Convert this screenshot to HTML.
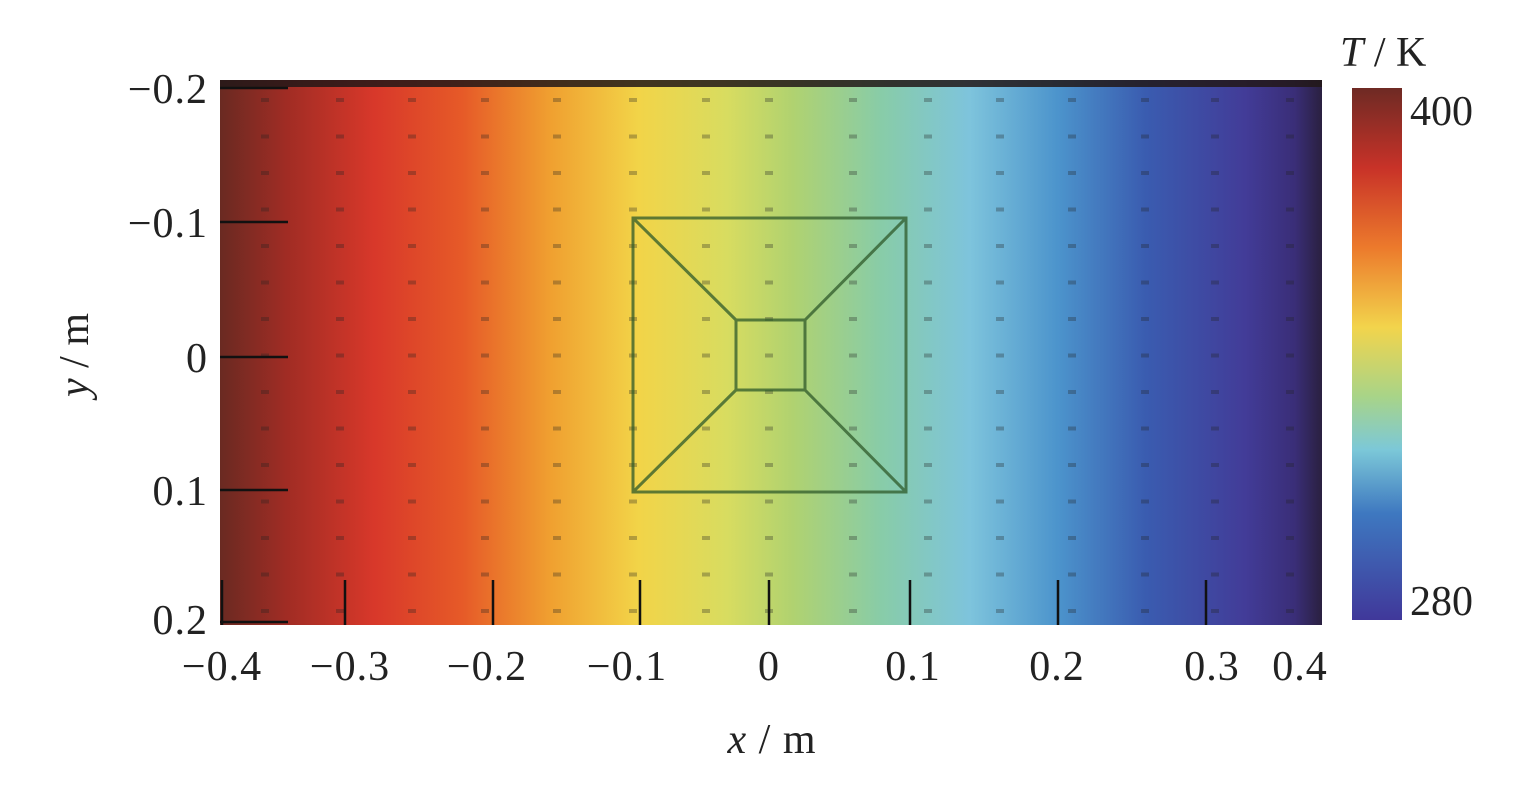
<!DOCTYPE html><html><head><style>body{margin:0;background:#fff}svg{display:block}text{font-family:"Liberation Serif",serif;fill:#222}</style></head><body>
<svg width="1515" height="790" viewBox="0 0 1515 790">
<defs>
<linearGradient id="h" x1="220" x2="1322" y1="0" y2="0" gradientUnits="userSpaceOnUse">
<stop offset="0" stop-color="#6a2a22"/><stop offset="0.06" stop-color="#a02c24"/><stop offset="0.14" stop-color="#d8382a"/><stop offset="0.22" stop-color="#e65a28"/><stop offset="0.3" stop-color="#f0a030"/><stop offset="0.38" stop-color="#f2d448"/><stop offset="0.46" stop-color="#d8dc60"/><stop offset="0.52" stop-color="#b0d270"/><stop offset="0.6" stop-color="#88cca8"/><stop offset="0.68" stop-color="#7ec4dc"/><stop offset="0.76" stop-color="#4c94cc"/><stop offset="0.84" stop-color="#3a5cb0"/><stop offset="0.93" stop-color="#423c98"/><stop offset="0.975" stop-color="#3a2e78"/><stop offset="1" stop-color="#2a2040"/>
</linearGradient>
<linearGradient id="v" x1="0" x2="0" y1="0" y2="1">
<stop offset="0" stop-color="#6e2a24"/><stop offset="0.15" stop-color="#c83228"/><stop offset="0.3" stop-color="#ec7a2c"/><stop offset="0.45" stop-color="#f2d44c"/><stop offset="0.58" stop-color="#a8d488"/><stop offset="0.68" stop-color="#7cc8d8"/><stop offset="0.8" stop-color="#3e78c0"/><stop offset="1" stop-color="#40389a"/>
</linearGradient>
</defs>
<rect x="220" y="80" width="1102" height="545" fill="url(#h)"/>
<rect x="220" y="80" width="1102" height="7" fill="#221818" opacity="0.85"/>
<g fill="#222" opacity="0.3" id="dots"></g>
<g stroke="#2f5a2a" stroke-width="3" fill="none" opacity="0.75">
<rect x="633" y="218" width="273" height="274"/>
<rect x="736" y="320" width="69" height="70"/>
<path d="M633 218L736 320M906 218L805 320M633 492L736 390M906 492L805 390"/>
</g>
<g stroke="#111" stroke-width="2.5">
<path d="M220 88h68M220 222h68M220 357h68M220 490h68M220 622h68"/>
<path d="M222 625v-45M345 625v-45M493 625v-45M640 625v-45M769 625v-45M910 625v-45M1058 625v-45M1206 625v-45"/>
</g>
<g font-size="42" text-anchor="end" letter-spacing="1">
<text x="208" y="103">−0.2</text><text x="208" y="237">−0.1</text><text x="208" y="372">0</text><text x="208" y="505">0.1</text><text x="208" y="634">0.2</text>
</g>
<g font-size="42" text-anchor="middle" letter-spacing="1">
<text x="222" y="680">−0.4</text><text x="350" y="680">−0.3</text><text x="487" y="680">−0.2</text><text x="627" y="680">−0.1</text><text x="769" y="680">0</text><text x="913" y="680">0.1</text><text x="1057" y="680">0.2</text><text x="1212" y="680">0.3</text><text x="1300" y="680">0.4</text>
<text x="772" y="753"><tspan font-style="italic">x</tspan> / m</text>
</g>
<text transform="translate(88,355) rotate(-90)" font-size="42" text-anchor="middle"><tspan font-style="italic">y</tspan> / m</text>
<rect x="1352" y="88" width="50" height="532" fill="url(#v)"/>
<text x="1340" y="66" font-size="42"><tspan font-style="italic">T</tspan> / K</text>
<text x="1410" y="125" font-size="42">400</text>
<text x="1410" y="615" font-size="42">280</text>
</svg>
<script>
var g=document.getElementById('dots'),xs=[265,340,412,485,557,633,706,769,853,928,1000,1072,1145,1215,1290],NS='http://www.w3.org/2000/svg';
for(var i=0;i<xs.length;i++)for(var y=100;y<620;y+=36.5){var r=document.createElementNS(NS,'rect');r.setAttribute('x',xs[i]-4);r.setAttribute('y',y-2);r.setAttribute('width',8);r.setAttribute('height',4);g.appendChild(r);}
</script>
</body></html>
